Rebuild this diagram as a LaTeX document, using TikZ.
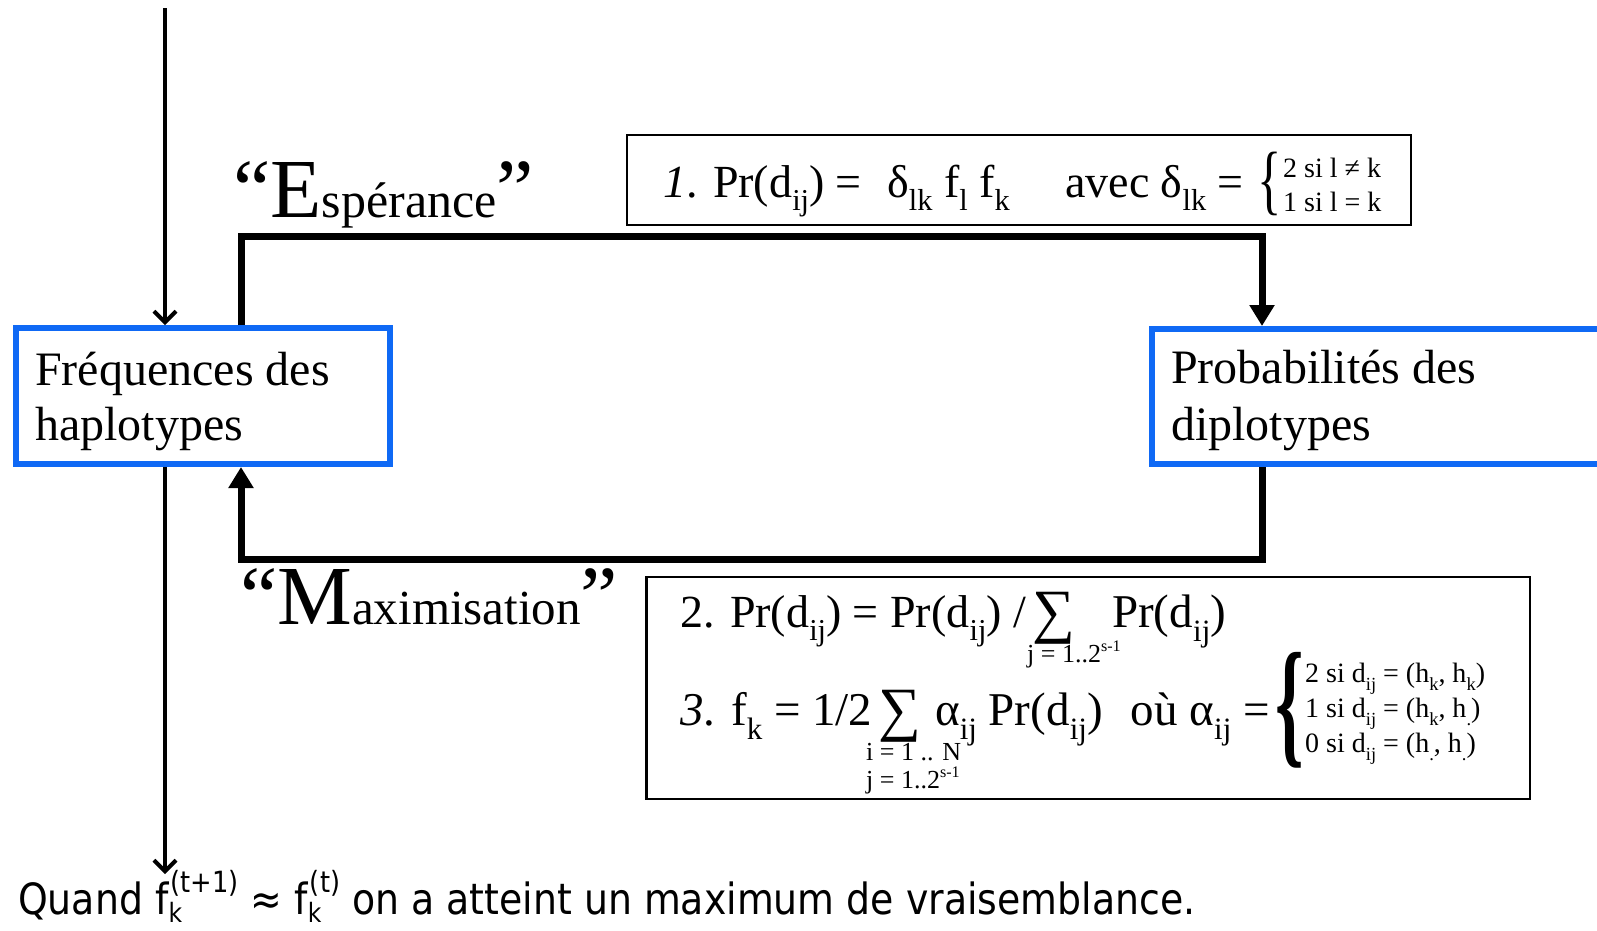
\documentclass[tikz,border=0pt]{standalone}
\usepackage{fontspec}
\setmainfont{Liberation Serif}
\newfontfamily\botfont[FakeStretch=0.88]{DejaVu Sans}
\usetikzlibrary{arrows.meta}
\definecolor{boxblue}{RGB}{15,105,245}
\newcommand\sbs[1]{\raisebox{-0.3em}{\scalebox{0.66}{#1}}}
\newcommand\sps[1]{\raisebox{0.42em}{\scalebox{0.62}{#1}}}
\newcommand\fsz[1]{\fontsize{#1}{#1}\selectfont}
\newcommand\fks[1]{f\rlap{\raisebox{-0.2em}{\scalebox{0.62}{k}}}\hspace{0.05em}\raisebox{0.5em}{\scalebox{0.68}{#1}}}
\begin{document}
\begin{tikzpicture}[x=1pt,y=-1pt,
  hbox/.style={draw=boxblue,line width=6pt,inner sep=0pt,fill=white},
  fbox/.style={draw=black,line width=2.5pt,inner sep=0pt},
  txt/.style={inner sep=0pt,anchor=base west},
  looparrow/.style={line width=7pt,line join=miter,-{Triangle[length=21pt,width=24pt]}},
  thinarrow/.style={line width=4.2pt,-{Straight Barb[length=11pt,width=22pt,line width=4pt]}}]
\useasboundingbox (0,0) rectangle (1597,930);
\clip (0,0) rectangle (1597,930);
\fill[white] (0,0) rectangle (1597,930);
% boxes
\node[hbox,minimum width=374pt,minimum height=136pt] (freq) at (203,396) {};
\node[hbox,minimum width=488pt,minimum height=135pt] (prob) at (1396,396.5) {};
\node[txt,font=\fsz{48}] (freq1) at (35,385) {Fréquences des};
\node[txt,font=\fsz{48}] (freq2) at (35,440) {haplotypes};
\node[txt,font=\fsz{48}] (prob1) at (1171,383) {Probabilités des};
\node[txt,font=\fsz{48}] (prob2) at (1171,440) {diplotypes};
% helper coordinates
\coordinate (xl) at (241,0);
\coordinate (xr) at (1262,0);
\coordinate (yt) at (0,236);
\coordinate (yb) at (0,559);
\coordinate (topstart) at (165,8);
\coordinate (botend) at (165,874);
% connectors
\draw[thinarrow] (topstart) -- (freq.north -| topstart);
\draw[thinarrow] (freq.south -| topstart) -- (botend);
\draw[looparrow] (freq.north -| xl) -- (xl |- yt) -- (xr |- yt) -- (prob.north -| xr);
\draw[looparrow] (prob.south -| xr) -- (xr |- yb) -- (xl |- yb) -- (freq.south -| xl);
% labels
\node[txt] (esp) at (233,217) {\fsz{84}“E\fsz{50}spérance\fsz{84}”};
\node[txt] (max) at (240,624) {\fsz{84}“M\fsz{49}aximisation\fsz{84}”};
% formula 1
\node[fbox,minimum width=784pt,minimum height=90pt] (eq1) at (1019,180) {};
\node[txt,font=\fsz{46}] (e1a) at (663,197) {\textit{1}. Pr(d\sbs{ij}) =};
\node[txt,font=\fsz{46}] (e1b) at (887,197) {δ\sbs{lk} f\sbs{l} f\sbs{k}};
\node[txt,font=\fsz{46}] (e1c) at (1065,197) {avec δ\sbs{lk} =};
\node[font=\fsz{44},inner sep=0pt] (e1brace) at (1270,184) {\scalebox{1.15}[1.75]{\{}};
\node[txt,font=\fsz{28}] (e1r1) at (1283,177) {2 si l ≠ k};
\node[txt,font=\fsz{28}] (e1r2) at (1283,211) {1 si l = k};
% formulas 2 and 3
\node[fbox,minimum width=883.5pt,minimum height=222pt] (eq2) at (1088.25,688) {};
\node[txt,font=\fsz{46}] (e2a) at (680,627) {2. Pr(d\sbs{ij}) = Pr(d\sbs{ij}) /};
\node[font=\fsz{60},inner sep=0pt,anchor=base] (e2sum) at (1054,631) {∑};
\node[txt,font=\fsz{26}] (e2lim) at (1027,662) {j = 1..2\sps{s-1}};
\node[txt,font=\fsz{47}] (e2b) at (1112,627) {Pr(d\sbs{ij})};
\node[txt,font=\fsz{47}] (e3a) at (680,725) {\textit{3}. f\sbs{k} = 1/2};
\node[font=\fsz{60},inner sep=0pt,anchor=base] (e3sum) at (900,729) {∑};
\node[txt,font=\fsz{26}] (e3lim1) at (866,760) {i = 1 .. N};
\node[txt,font=\fsz{26}] (e3lim2) at (866,788) {j = 1..2\sps{s-1}};
\node[txt,font=\fsz{47}] (e3b) at (935,725) {α\sbs{ij} Pr(d\sbs{ij})\hspace{0.35em} où α\sbs{ij} =};
\node[font=\bfseries\fsz{50},inner sep=0pt] (e3brace) at (1290,710) {\scalebox{1.45}[2.8]{\{}};
\node[txt,font=\fsz{28}] (e3r1) at (1305,682) {2 si d\sbs{ij} = (h\sbs{k}, h\sbs{k})};
\node[txt,font=\fsz{28}] (e3r2) at (1305,717) {1 si d\sbs{ij} = (h\sbs{k}, h\sbs{.})};
\node[txt,font=\fsz{28}] (e3r3) at (1305,752) {0 si d\sbs{ij} = (h\sbs{.}, h\sbs{.})};
% conclusion
\node[txt,font=\botfont\fsz{43}] (concl) at (18,914) {Quand \fks{(t+1)} ≈ \fks{(t)} on a atteint un maximum de vraisemblance.};
\end{tikzpicture}
\end{document}
